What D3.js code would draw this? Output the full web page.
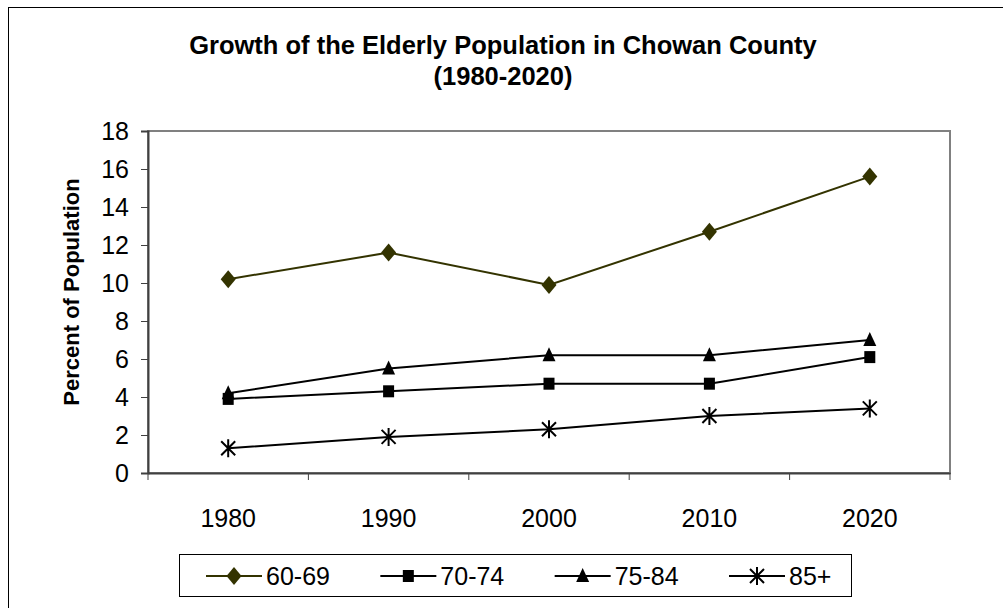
<!DOCTYPE html>
<html>
<head>
<meta charset="utf-8">
<script src="https://cdn.jsdelivr.net/npm/d3@7"></script>
<style>
  body { margin: 0; background: #fff; }
  text { font-family: "Liberation Sans", Arial, sans-serif; }
</style>
</head>
<body>
<svg id="chart"></svg>
<script>
// chart data
var years = ["1980", "1990", "2000", "2010", "2020"];
var age6069 = [10.2, 11.6, 9.9, 12.7, 15.6];
var age7074 = [3.9, 4.3, 4.7, 4.7, 6.1];
var age7584 = [4.2, 5.5, 6.2, 6.2, 7.0];
var age85 = [1.3, 1.9, 2.3, 3.0, 3.4];
var seriesNames = ["60-69", "70-74", "75-84", "85+"];
var yTicks = [0, 2, 4, 6, 8, 10, 12, 14, 16, 18];

var series = [
    {name: seriesNames[0], values: age6069, color: "#333300", marker: "diamond"},
    {name: seriesNames[1], values: age7074, color: "#000000", marker: "square"},
    {name: seriesNames[2], values: age7584, color: "#000000", marker: "triangle"},
    {name: seriesNames[3], values: age85, color: "#000000", marker: "star"}
];

var screen = {width: 1003, height: 608};
var plot = {left: 148, top: 131, right: 950, bottom: 473};

var svg = d3.select("#chart")
    .attr("width", screen.width)
    .attr("height", screen.height);

// outer chart border (runs off the right and bottom edges)
svg.append("rect")
    .attr("x", 8.5).attr("y", 7.5)
    .attr("width", 1100).attr("height", 700)
    .attr("fill", "#fff")
    .attr("stroke", "#000")
    .attr("stroke-width", 1);

// title
var title = svg.append("text")
    .attr("text-anchor", "middle")
    .attr("font-weight", "bold")
    .attr("font-size", 25.5);
title.append("tspan").attr("x", 503).attr("y", 54).text("Growth of the Elderly Population in Chowan County");
title.append("tspan").attr("x", 503).attr("y", 85).text("(1980-2020)");

var xScale = d3.scaleBand()
    .domain(years)
    .range([plot.left, plot.right]);

var yScale = d3.scaleLinear()
    .domain([0, 18])
    .range([plot.bottom, plot.top]);

// plot area frame
svg.append("rect")
    .attr("x", plot.left).attr("y", plot.top)
    .attr("width", plot.right - plot.left)
    .attr("height", plot.bottom - plot.top)
    .attr("fill", "none")
    .attr("stroke", "#808080")
    .attr("stroke-width", 2);

// y axis
var yAxis = d3.axisLeft(yScale)
    .tickValues(yTicks)
    .tickSize(7)
    .tickPadding(12);
var gy = svg.append("g")
    .attr("transform", "translate(" + plot.left + ",0)")
    .call(yAxis);
gy.select(".domain").attr("stroke", "#404040").attr("stroke-width", 2);
gy.selectAll(".tick line").attr("stroke", "#404040");
gy.selectAll(".tick text")
    .attr("font-size", 25)
    .attr("dy", "0.35em")
    .attr("fill", "#000");

// x axis (ticks between categories)
var xAxis = d3.axisBottom(xScale)
    .tickSize(0)
    .tickPadding(36);
var gx = svg.append("g")
    .attr("transform", "translate(0," + plot.bottom + ")")
    .call(xAxis);
gx.select(".domain").attr("stroke", "#404040").attr("stroke-width", 2);
gx.selectAll(".tick text")
    .attr("font-size", 25)
    .attr("fill", "#000");

var bounds = years.map(function(y) { return xScale(y); }).concat([plot.right]);
svg.append("g").selectAll("line")
    .data(bounds)
    .enter()
    .append("line")
    .attr("x1", function(d) { return d; })
    .attr("x2", function(d) { return d; })
    .attr("y1", plot.bottom)
    .attr("y2", plot.bottom + 7)
    .attr("stroke", "#404040")
    .attr("stroke-width", 1);

// y axis title
svg.append("text")
    .attr("transform", "translate(79,292) rotate(-90)")
    .attr("text-anchor", "middle")
    .attr("font-weight", "bold")
    .attr("font-size", 22)
    .text("Percent of Population");

// marker drawing
var drawMarker = function(g, type, color)
{
    if (type == "diamond") {
        g.append("path").attr("d", "M0,-9L7.5,0L0,9L-7.5,0Z").attr("fill", color);
    } else if (type == "square") {
        g.append("rect").attr("x", -5.5).attr("y", -6).attr("width", 11).attr("height", 12).attr("fill", color);
    } else if (type == "triangle") {
        g.append("path").attr("d", "M0,-8L6.5,6L-6.5,6Z").attr("fill", color);
    } else {
        g.append("path").attr("d", "M0,-9L0,9M-7,-7L7,7M-7,7L7,-7")
            .attr("stroke", color).attr("stroke-width", 2).attr("fill", "none");
    }
}

var cx = function(i) { return xScale(years[i]) + xScale.bandwidth() / 2; };

var line = d3.line()
    .x(function(d, i) { return cx(i); })
    .y(function(d) { return yScale(d); });

series.forEach(function(s)
{
    svg.append("path")
        .datum(s.values)
        .attr("d", line)
        .attr("fill", "none")
        .attr("stroke", s.color)
        .attr("stroke-width", 2);
    s.values.forEach(function(v, i)
    {
        var g = svg.append("g")
            .attr("transform", "translate(" + cx(i) + "," + yScale(v) + ")");
        drawMarker(g, s.marker, s.color);
    });
});

// legend
var legend = svg.append("g");
legend.append("rect")
    .attr("x", 179.5).attr("y", 554.5)
    .attr("width", 672).attr("height", 42)
    .attr("fill", "#fff")
    .attr("stroke", "#000");

var legendX = d3.scalePoint()
    .domain(seriesNames)
    .range([206, 729]);

series.forEach(function(s)
{
    var x0 = legendX(s.name);
    var item = legend.append("g").attr("transform", "translate(" + x0 + ",576)");
    item.append("line")
        .attr("x1", 0).attr("x2", 56)
        .attr("stroke", s.color).attr("stroke-width", 2);
    var m = item.append("g").attr("transform", "translate(28,0)");
    drawMarker(m, s.marker, s.color);
    item.append("text")
        .attr("x", 60).attr("y", 9)
        .attr("font-size", 25)
        .text(s.name);
});
</script>
</body>
</html>
